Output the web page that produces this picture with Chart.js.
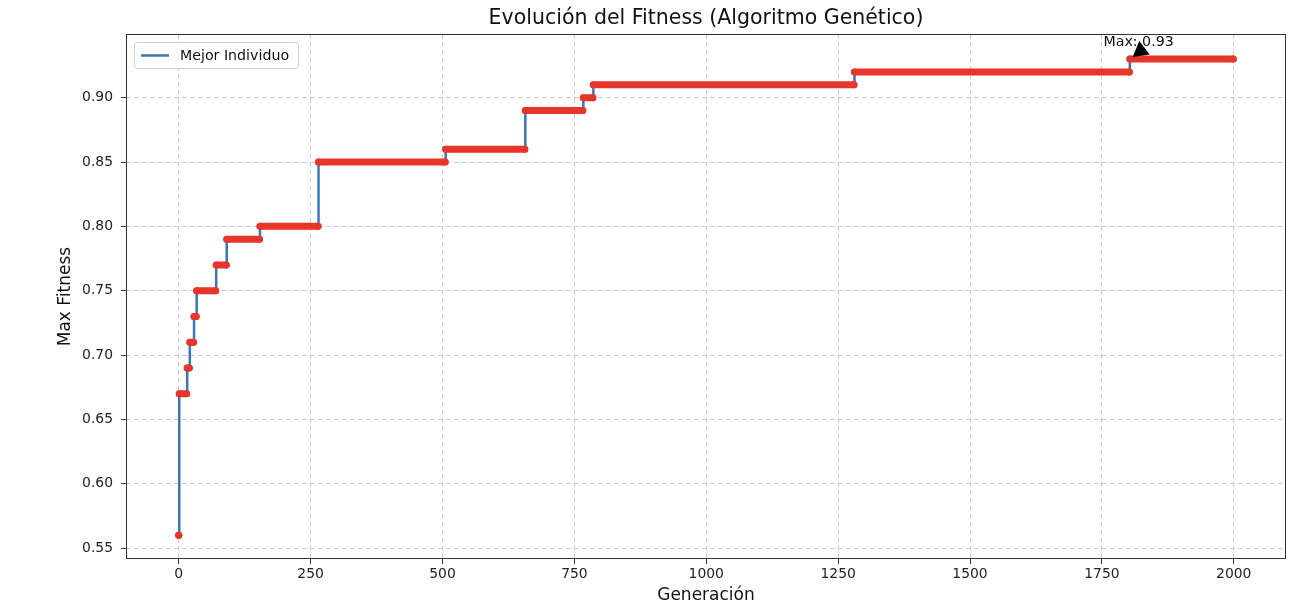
<!DOCTYPE html>
<html lang="es">
<head>
    <meta charset="UTF-8">
    <title>Evolución del Fitness</title>
    <style>
        body {
            margin: 0;
            padding: 0;
            background: #ffffff;
        }
        #wrap {
            width: 1312px;
            height: 604px;
        }
    </style>
</head>
<body>
    <div id="wrap">
        <canvas id="chart" width="1312" height="604"></canvas>
    </div>

    <script src="https://cdn.jsdelivr.net/npm/chart.js"></script>
    <script>
        // generación donde empieza cada escalón y su fitness máximo
        const stepStart = [0, 1, 16, 21, 29, 34, 71, 91, 154, 265, 506, 657, 767, 786, 1281, 1803];
        const stepValue = [0.56, 0.67, 0.69, 0.71, 0.73, 0.75, 0.77, 0.79, 0.80, 0.85, 0.86, 0.89, 0.90, 0.91, 0.92, 0.93];
        const lastGen = 1999;

        const xTicks = [0, 250, 500, 750, 1000, 1250, 1500, 1750, 2000];
        const yTicks = [0.55, 0.60, 0.65, 0.70, 0.75, 0.80, 0.85, 0.90];

        const FONT = "'DejaVu Sans', sans-serif";
        const BLUE = '#3a77b4';
        const RED = '#e8352a';

        // línea azul: puntos de cambio + último
        const linePts = stepStart.map((g, i) => ({ x: g, y: stepValue[i] }));
        linePts.push({ x: lastGen, y: stepValue[stepValue.length - 1] });

        // marcadores rojos: un tramo por escalón, separados por huecos
        const dotPts = [];
        stepStart.forEach((g, i) => {
            const end = i < stepStart.length - 1 ? stepStart[i + 1] - 1 : lastGen;
            dotPts.push({ x: g, y: stepValue[i] });
            dotPts.push({ x: end, y: stepValue[i] });
            dotPts.push({ x: end + 0.5, y: null });
        });

        const maxVal = Math.max(...stepValue);
        const maxGen = stepStart[stepValue.indexOf(maxVal)];

        const decor = {
            id: 'decor',
            afterDraw(chart) {
                const ctx = chart.ctx;
                const a = chart.chartArea;
                const xs = chart.scales.x, ys = chart.scales.y;
                ctx.save();

                // marco
                ctx.strokeStyle = '#333';
                ctx.lineWidth = 1;
                ctx.strokeRect(a.left + 0.5, a.top + 0.5, a.right - a.left - 1, a.bottom - a.top - 1);

                // título
                ctx.fillStyle = '#111';
                ctx.textAlign = 'center';
                ctx.textBaseline = 'middle';
                ctx.font = '20.5px ' + FONT;
                ctx.fillText('Evolución del Fitness (Algoritmo Genético)', (a.left + a.right) / 2, 19);

                // ejes
                ctx.font = '17px ' + FONT;
                ctx.fillText('Generación', (a.left + a.right) / 2, 596);
                ctx.save();
                ctx.translate(66, (a.top + a.bottom) / 2);
                ctx.rotate(-Math.PI / 2);
                ctx.fillText('Max Fitness', 0, 0);
                ctx.restore();

                // leyenda
                const lx = a.left + 8, ly = a.top + 8, lw = 164, lh = 26;
                ctx.fillStyle = 'rgba(255,255,255,0.85)';
                ctx.strokeStyle = '#d0d0d0';
                ctx.beginPath();
                ctx.roundRect(lx + 0.5, ly + 0.5, lw, lh, 3);
                ctx.fill();
                ctx.stroke();
                ctx.strokeStyle = BLUE;
                ctx.lineWidth = 2.5;
                ctx.beginPath();
                ctx.moveTo(lx + 7, ly + 13.5);
                ctx.lineTo(lx + 35, ly + 13.5);
                ctx.stroke();
                ctx.fillStyle = '#111';
                ctx.font = '14.2px ' + FONT;
                ctx.textAlign = 'left';
                ctx.fillText(chart.data.datasets[0].label, lx + 46, ly + 14);

                // anotación del máximo
                const px = xs.getPixelForValue(maxGen), py = ys.getPixelForValue(maxVal);
                const tx = xs.getPixelForValue(maxGen - 50), ty = ys.getPixelForValue(maxVal + 0.01);
                ctx.textBaseline = 'alphabetic';
                const label = 'Max: ' + maxVal.toFixed(2);
                ctx.fillText(label, tx, ty);
                const w = ctx.measureText(label).width;
                const sx = tx + 62 / 2 + 25, sy = ty - 10;
                let dx = sx - px, dy = sy - py;
                const len = Math.hypot(dx, dy);
                dx /= len; dy /= len;
                const tipX = px + dx * 3.5, tipY = py + dy * 3.5;
                const bx = tipX + dx * 15, by = tipY + dy * 15;
                ctx.fillStyle = '#000';
                ctx.beginPath();
                ctx.moveTo(tipX, tipY);
                ctx.lineTo(bx - dy * 8.5, by + dx * 8.5);
                ctx.lineTo(bx + dy * 8.5, by - dx * 8.5);
                ctx.closePath();
                ctx.fill();

                ctx.restore();
            }
        };

        new Chart(document.getElementById('chart'), {
            type: 'line',
            data: {
                datasets: [
                    {
                        label: 'Mejor Individuo',
                        data: linePts,
                        borderColor: BLUE,
                        borderWidth: 2.5,
                        stepped: true,
                        pointRadius: 0,
                        fill: false,
                        order: 2
                    },
                    {
                        label: '',
                        data: dotPts,
                        borderColor: RED,
                        backgroundColor: RED,
                        borderWidth: 7,
                        borderCapStyle: 'round',
                        pointRadius: 3.5,
                        pointBorderWidth: 0,
                        spanGaps: false,
                        fill: false,
                        order: 1
                    }
                ]
            },
            options: {
                responsive: false,
                animation: false,
                layout: { padding: { top: 34, right: 26, left: 0, bottom: 0 } },
                plugins: {
                    legend: { display: false },
                    title: { display: false },
                    tooltip: { enabled: false }
                },
                scales: {
                    x: {
                        type: 'linear',
                        min: -100,
                        max: 2099,
                        afterBuildTicks: s => { s.ticks = xTicks.map(v => ({ value: v })); },
                        afterFit: s => { s.height = 45; },
                        grid: {
                            color: '#cccccc',
                            lineWidth: 1,
                            tickLength: 5,
                            tickColor: '#333',
                            tickBorderDash: []
                        },
                        border: { display: false, dash: [5, 3] },
                        ticks: {
                            color: '#222',
                            padding: 2,
                            maxRotation: 0,
                            font: { family: FONT, size: 13.9 },
                            callback: v => String(v)
                        }
                    },
                    y: {
                        type: 'linear',
                        min: 0.5415,
                        max: 0.9495,
                        afterBuildTicks: s => { s.ticks = yTicks.map(v => ({ value: v })); },
                        afterFit: s => { s.width = 126; },
                        grid: {
                            color: '#cccccc',
                            lineWidth: 1,
                            tickLength: 5,
                            tickColor: '#333',
                            tickBorderDash: []
                        },
                        border: { display: false, dash: [5, 3] },
                        ticks: {
                            color: '#222',
                            padding: 8,
                            font: { family: FONT, size: 13.9 },
                            callback: v => v.toFixed(2)
                        }
                    }
                }
            },
            plugins: [decor]
        });
    </script>
</body>
</html>
